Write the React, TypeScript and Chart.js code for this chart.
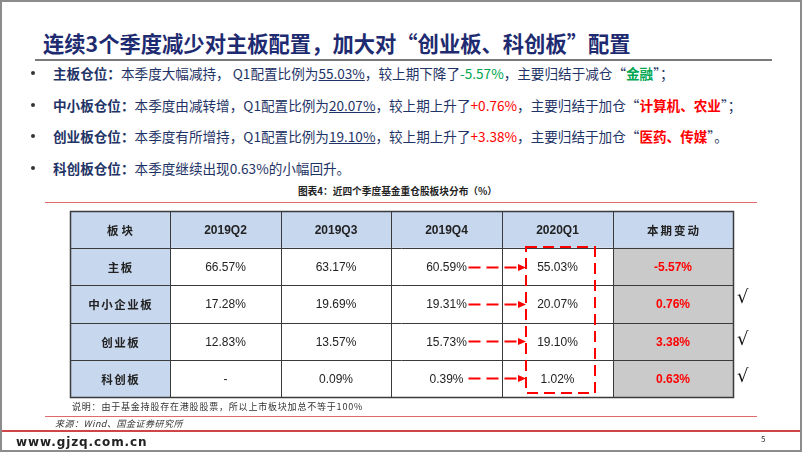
import React, { useEffect, useRef } from 'react';
import { Chart, registerables } from 'chart.js';

Chart.register(...registerables);

// ---------- data ----------
const slideTitle = '连续3个季度减少对主板配置，加大对“创业板、科创板”配置';
const tableCaption = '图表4：近四个季度基金重仓股板块分布（%）';
const noteText = '说明：由于基金持股存在港股股票，所以上市板块加总不等于100%';
const sourceText = '来源：Wind、国金证券研究所';
const siteText = 'www.gjzq.com.cn';
const pageNo = '5';

const headerFirst = '板块';
const headerLast = '本期变动';
const quarters = ['2019Q2', '2019Q3', '2019Q4', '2020Q1'];
const boards = ['主板', '中小企业板', '创业板', '科创板'];
const q2019Q2: (number | null)[] = [66.57, 17.28, 12.83, null];
const q2019Q3: (number | null)[] = [63.17, 19.69, 13.57, 0.09];
const q2019Q4: (number | null)[] = [60.59, 19.31, 15.73, 0.39];
const q2020Q1: (number | null)[] = [55.03, 20.07, 19.1, 1.02];
const changes = [-5.57, 0.76, 3.38, 0.63];
const checked = [false, true, true, true];

type Seg = [string, string];
const bullet1: Seg[] = [
  ['主板仓位：', 'b'], ['本季度大幅减持， Q1配置比例为', ''], ['55.03%', 'u'], ['，较上期下降了', ''],
  ['-5.57%', 'g'], ['，主要归结于减仓“', ''], ['金融', 'gb'], ['”；', ''],
];
const bullet2: Seg[] = [
  ['中小板仓位：', 'b'], ['本季度由减转增，Q1配置比例为', ''], ['20.07%', 'u'], ['，较上期上升了', ''],
  ['+0.76%', 'r'], ['，主要归结于加仓“', ''], ['计算机、农业', 'rb'], ['”；', ''],
];
const bullet3: Seg[] = [
  ['创业板仓位：', 'b'], ['本季度有所增持，Q1配置比例为', ''], ['19.10%', 'u'], ['，较上期上升了', ''],
  ['+3.38%', 'r'], ['，主要归结于加仓“', ''], ['医药、传媒', 'rb'], ['”。', ''],
];
const bullet4: Seg[] = [['科创板仓位：', 'b'], ['本季度继续出现0.63%的小幅回升。', '']];
const bullets = [bullet1, bullet2, bullet3, bullet4];

// ---------- layout / style ----------
const COL_WIDTHS = [100, 111, 110, 111, 111, 120];
const COL_EDGES = COL_WIDTHS.reduce((a, w) => { a.push(a[a.length - 1] + w); return a; }, [0] as number[]);
const HEADER_BLUE = '#C7D7EE';
const CELL_GRAY = '#CACACA';
const LINE_DARK = '#3a3a3a';
const NAVY = '#1E2B70';
const TEXT_NAVY = '#1F3466';
const RED = '#FF0000';
const GREEN = '#00A650';
const CJK = '"Noto Sans CJK SC", "Noto Sans", sans-serif';

const rowLabels = [headerFirst, ...boards];
const columnSeries = [q2019Q2, q2019Q3, q2019Q4, q2020Q1];

function fmt(v: number | null) {
  return v === null ? '-' : v.toFixed(2) + '%';
}

function cellColor(r: number, c: number) {
  if (r === 0 || c === 0) return HEADER_BLUE;
  if (c === 5) return CELL_GRAY;
  return '#FFFFFF';
}

const tablePlugin = {
  id: 'tableDecor',
  afterDatasetsDraw(chart: any) {
    const { ctx, chartArea, scales } = chart;
    const xs = scales.x;
    const ys = scales.y;
    const n = rowLabels.length;
    const rowH = (chartArea.bottom - chartArea.top) / n;
    const xe = COL_EDGES.map((e) => Math.round(xs.getPixelForValue(e)));
    const ye: number[] = [];
    for (let i = 0; i < n; i++) ye.push(Math.round(ys.getPixelForValue(i) - rowH / 2));
    ye.push(Math.round(ys.getPixelForValue(n - 1) + rowH / 2));

    ctx.save();
    // inner grid
    ctx.strokeStyle = LINE_DARK;
    ctx.lineWidth = 1;
    ctx.beginPath();
    for (let i = 1; i < xe.length - 1; i++) {
      ctx.moveTo(xe[i] + 0.5, ye[0]);
      ctx.lineTo(xe[i] + 0.5, ye[n]);
    }
    for (let j = 1; j < n; j++) {
      ctx.moveTo(xe[0], ye[j] + 0.5);
      ctx.lineTo(xe[xe.length - 1], ye[j] + 0.5);
    }
    ctx.stroke();
    // outer border
    ctx.lineWidth = 1.5;
    ctx.strokeRect(xe[0] + 0.5, ye[0] + 0.5, xe[xe.length - 1] - xe[0], ye[n] - ye[0]);

    // texts
    ctx.textAlign = 'center';
    ctx.textBaseline = 'middle';
    for (let r = 0; r < n; r++) {
      const cy = ys.getPixelForValue(r) + 1;
      for (let c = 0; c < COL_WIDTHS.length; c++) {
        const cx = (xe[c] + xe[c + 1]) / 2;
        let text = '';
        let font = '12px "Liberation Sans", Arial, sans-serif';
        let color = '#222222';
        let spacing = '0px';
        if (r === 0) {
          if (c === 0) { text = headerFirst; font = `bold 11.5px ${CJK}`; spacing = '3px'; }
          else if (c === 5) { text = headerLast; font = `bold 11.5px ${CJK}`; spacing = '2px'; }
          else { text = quarters[c - 1]; font = 'bold 12px "Liberation Sans", Arial, sans-serif'; }
        } else if (c === 0) {
          text = boards[r - 1]; font = `bold 11.5px ${CJK}`; spacing = '1.5px';
        } else if (c === 5) {
          text = fmt(changes[r - 1]); font = 'bold 12px "Liberation Sans", Arial, sans-serif'; color = RED;
        } else {
          text = fmt(columnSeries[c - 1][r - 1]);
        }
        ctx.font = font;
        ctx.fillStyle = color;
        (ctx as any).letterSpacing = spacing;
        ctx.fillText(text, cx + (spacing !== '0px' ? parseFloat(spacing) / 2 : 0), cy);
      }
    }
    (ctx as any).letterSpacing = '0px';

    // dashed arrows from 2019Q4 to 2020Q1
    const rectL = xe[4] + 24;
    const rectR = xe[5] - 18;
    const rectT = ye[1] - 1;
    const rectB = ye[n] - 4;
    ctx.strokeStyle = RED;
    ctx.fillStyle = RED;
    ctx.lineWidth = 2;
    for (let r = 1; r < n; r++) {
      const y = Math.round(ys.getPixelForValue(r)) + 0.5;
      const x0 = (xe[3] + xe[4]) / 2 + 22;
      const x1 = rectL;
      ctx.setLineDash([12, 6]);
      ctx.beginPath();
      ctx.moveTo(x0, y);
      ctx.lineTo(x1 - 6, y);
      ctx.stroke();
      ctx.setLineDash([]);
      ctx.beginPath();
      ctx.moveTo(x1, y);
      ctx.lineTo(x1 - 8, y - 3.5);
      ctx.lineTo(x1 - 8, y + 3.5);
      ctx.closePath();
      ctx.fill();
    }
    ctx.setLineDash([11, 6]);
    ctx.lineWidth = 2;
    ctx.strokeRect(rectL, rectT, rectR - rectL, rectB - rectT);
    ctx.setLineDash([]);

    // check marks
    ctx.fillStyle = '#111111';
    ctx.font = '18px "DejaVu Serif", serif';
    ctx.textAlign = 'left';
    for (let r = 1; r < n; r++) {
      if (!checked[r - 1]) continue;
      const y = ys.getPixelForValue(r) - (r === 2 ? 6 : 1);
      ctx.fillText('√', xe[xe.length - 1] + 4, y);
    }
    ctx.restore();
  },
};

function segStyle(kind: string): React.CSSProperties {
  const s: React.CSSProperties = {};
  if (kind.includes('b')) s.fontWeight = 'bold';
  if (kind.includes('u')) s.textDecoration = 'underline';
  if (kind.includes('g')) s.color = GREEN;
  if (kind.includes('r')) s.color = RED;
  return s;
}

function hLine(top: number, left: number, width: number, color: string, h: number) {
  return <div style={{ position: 'absolute', top, left, width, height: h, background: color }} />;
}

export default function App() {
  const canvasRef = useRef<HTMLCanvasElement | null>(null);

  useEffect(() => {
    const canvas = canvasRef.current;
    if (!canvas) return;
    const datasets = COL_WIDTHS.map((_, c) => ({
      label: c === 0 ? headerFirst : c === 5 ? headerLast : quarters[c - 1],
      data: rowLabels.map(() => [COL_EDGES[c], COL_EDGES[c + 1]]),
      backgroundColor: rowLabels.map((_, r) => cellColor(r, c)),
      borderWidth: 0,
      barPercentage: 1,
      categoryPercentage: 1,
      grouped: false,
    }));
    const chart = new Chart(canvas, {
      type: 'bar',
      data: { labels: rowLabels, datasets: datasets as any },
      options: {
        indexAxis: 'y',
        responsive: false,
        animation: false,
        events: [],
        layout: { padding: { left: 70, top: 211, right: 69, bottom: 55 } },
        plugins: { legend: { display: false }, tooltip: { enabled: false } },
        scales: {
          x: { type: 'linear', min: 0, max: COL_EDGES[COL_EDGES.length - 1], display: false },
          y: { type: 'category', offset: true, display: false },
        },
      },
      plugins: [tablePlugin],
    });
    return () => chart.destroy();
  }, []);

  const bulletTops = [73, 104.5, 136, 167.5];

  return (
    <div style={{ position: 'absolute', left: 0, top: 0, width: 802, height: 452, background: '#fff', overflow: 'hidden', fontFamily: CJK }}>
      {/* slide frame */}
      <div style={{ position: 'absolute', left: 0, top: 0, width: 802, height: 452, boxSizing: 'border-box', border: '2px solid #8c8c8c' }} />
      {/* title */}
      <div style={{ position: 'absolute', left: 43, top: 28, height: 30, lineHeight: '30px', fontSize: 21.3, fontWeight: 'bold', color: NAVY, whiteSpace: 'nowrap' }}>
        {slideTitle}
      </div>
      {hLine(59, 35, 737, '#7a7a7a', 2)}
      {/* bullets */}
      {bullets.map((segs, i) => (
        <React.Fragment key={i}>
          <div style={{ position: 'absolute', left: 31, top: bulletTops[i] - 2, width: 4, height: 4, borderRadius: 2, background: '#333' }} />
          <div style={{ position: 'absolute', left: 53, top: bulletTops[i] - 10, height: 20, lineHeight: '20px', fontSize: 13.6, color: TEXT_NAVY, whiteSpace: 'nowrap' }}>
            {segs.map(([t, k], j) => (
              <span key={j} style={segStyle(k)}>{t}</span>
            ))}
          </div>
        </React.Fragment>
      ))}
      {/* caption */}
      <div style={{ position: 'absolute', left: 200, width: 395, top: 183, height: 16, lineHeight: '16px', textAlign: 'center', fontSize: 9.7, fontWeight: 'bold', color: '#222', whiteSpace: 'nowrap' }}>
        {tableCaption}
      </div>
      {hLine(202, 45, 712, '#e06a6a', 1)}
      {/* table chart */}
      <canvas ref={canvasRef} width={802} height={452} style={{ position: 'absolute', left: 0, top: 0, width: 802, height: 452 }} />
      {/* note */}
      <div style={{ position: 'absolute', left: 72, top: 400, height: 14, lineHeight: '14px', fontSize: 9, color: '#333', letterSpacing: '0.8px', whiteSpace: 'nowrap' }}>
        {noteText}
      </div>
      {hLine(416, 45, 712, '#e06a6a', 1)}
      <div style={{ position: 'absolute', left: 55, top: 417, height: 14, lineHeight: '14px', fontSize: 9, fontStyle: 'italic', color: '#333', letterSpacing: '0.5px', whiteSpace: 'nowrap' }}>
        {sourceText}
      </div>
      {hLine(430, 2, 798, '#d04545', 1.5)}
      <div style={{ position: 'absolute', left: 16, top: 434, height: 16, lineHeight: '16px', fontSize: 12, fontWeight: 'bold', fontFamily: '"DejaVu Sans", sans-serif', color: '#222', letterSpacing: '0.9px', whiteSpace: 'nowrap' }}>
        {siteText}
      </div>
      <div style={{ position: 'absolute', left: 761, top: 433, height: 12, lineHeight: '12px', fontSize: 8, color: '#333' }}>
        {pageNo}
      </div>
    </div>
  );
}
